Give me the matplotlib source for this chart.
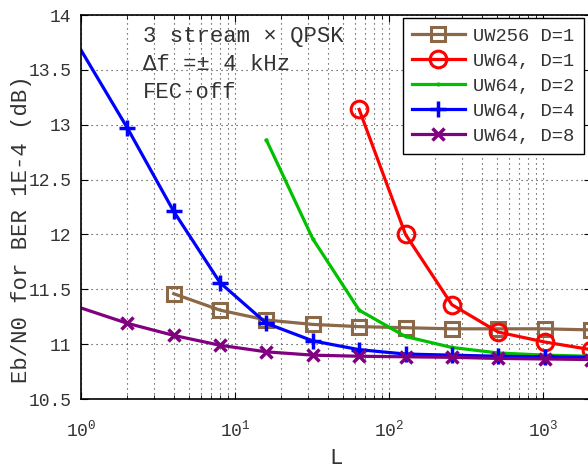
import math
import matplotlib
matplotlib.use("Agg")
import matplotlib.pyplot as plt
from matplotlib.ticker import FixedLocator, FuncFormatter, NullFormatter

plt.rcParams['font.family'] = ['Liberation Mono', 'DejaVu Sans Mono']
plt.rcParams['mathtext.fontset'] = 'custom'
plt.rcParams['mathtext.rm'] = 'Liberation Mono'

x_uw256 = [4, 8, 16, 32, 64, 128, 256, 512, 1024, 2048]
y_uw256 = [11.46, 11.31, 11.22, 11.18, 11.16, 11.15, 11.14, 11.14, 11.14, 11.13]
x_d1 = [64, 128, 256, 512, 1024, 2048]
y_d1 = [13.14, 12.0, 11.36, 11.11, 11.02, 10.95]
x_d2 = [16, 32, 64, 128, 256, 512, 1024, 2048]
y_d2 = [12.86, 11.96, 11.31, 11.07, 10.97, 10.92, 10.9, 10.89]
x_d4 = [1, 2, 4, 8, 16, 32, 64, 128, 256, 512, 1024, 2048]
y_d4 = [13.68, 12.97, 12.21, 11.56, 11.19, 11.03, 10.95, 10.91, 10.9, 10.89, 10.885, 10.88]
x_d8 = [1, 2, 4, 8, 16, 32, 64, 128, 256, 512, 1024, 2048]
y_d8 = [11.33, 11.19, 11.08, 10.99, 10.93, 10.9, 10.89, 10.885, 10.88, 10.87, 10.865, 10.86]
labels = ['UW256 D=1', 'UW64, D=1', 'UW64, D=2', 'UW64, D=4', 'UW64, D=8']
y_ticks = [10.5, 11, 11.5, 12, 12.5, 13, 13.5, 14]
y_ticklabels = ['10.5', '11', '11.5', '12', '12.5', '13', '13.5', '14']
annot = ['3 stream \u00d7 QPSK', '\u0394f =\u00b1 4 kHz', 'FEC-off']

fig = plt.figure(figsize=(5.88, 4.70), dpi=100)
ax = fig.add_axes([0.1378, 0.151, 0.8672, 0.817])

lw = 2.3
ax.plot(x_uw256, y_uw256, '-s', color='#8b6847', lw=lw, ms=9.5, mfc='none', mew=2.2, label=labels[0])
ax.plot(x_d1, y_d1, '-o', color='#ff0000', lw=lw, ms=12, mfc='none', mew=2.2, label=labels[1])
ax.plot(x_d2, y_d2, '-', marker='.', color='#00c000', lw=lw, ms=4, label=labels[2])
ax.plot(x_d4, y_d4, '-+', color='#0000ff', lw=lw, ms=12, mew=2.5, markevery=slice(1, None), label=labels[3])
ax.plot(x_d8, y_d8, '-x', color='#800080', lw=lw, ms=8.5, mew=2.5, markevery=slice(1, None), label=labels[4])

ax.set_xscale('log')
ax.set_xlim(1, 2048)
ax.set_ylim(10.5, 14)
ax.set_yticks(y_ticks)
ax.set_yticklabels(y_ticklabels)
ax.xaxis.set_major_locator(FixedLocator([1, 10, 100, 1000]))
ax.xaxis.set_major_formatter(FuncFormatter(lambda v, p: r'$\mathregular{10^{%d}}$' % round(math.log10(v))))
ax.xaxis.set_minor_formatter(NullFormatter())

gs = dict(linestyle=(0, (1, 3.5)), color='0.2', linewidth=0.8)
ax.grid(True, which='major', **gs)
ax.grid(True, which='minor', axis='x', **gs)
ax.tick_params(which='both', direction='in', top=True, right=True, labelsize=13, colors='black')
ax.tick_params(axis='y', pad=7)
ax.tick_params(axis='x', pad=15)
ax.tick_params(which='major', length=5)
ax.tick_params(which='minor', length=3)
for t in ax.get_xticklabels() + ax.get_yticklabels():
    t.set_color('0.2')
for s in ax.spines.values():
    s.set_linewidth(1.2)

for i, t in enumerate(annot):
    ax.text(0.1216, 0.943 - i * 0.073, t, transform=ax.transAxes, fontsize=16, ha='left',
            va='center', color='0.2')

leg = ax.legend(loc='upper right', bbox_to_anchor=(0.986, 0.992), fontsize=13.5, fancybox=False,
                framealpha=1, edgecolor='black', handlelength=2.8, borderpad=0.5, labelspacing=0.42,
                handletextpad=0.45, borderaxespad=0.0)
leg.get_frame().set_linewidth(1.0)
for t in leg.get_texts():
    t.set_color('0.2')

ax.set_xlabel('L', fontsize=16, color='0.2')
ax.set_ylabel('Eb/N0 for BER 1E-4 (dB)', fontsize=16, color='0.2')
ax.xaxis.set_label_coords(0.5, -0.154)
ax.yaxis.set_label_coords(-0.116, 0.443)
ax.yaxis.label.set_va('center')
ax.xaxis.label.set_va('center')

fig.savefig('out.png', dpi=100)
